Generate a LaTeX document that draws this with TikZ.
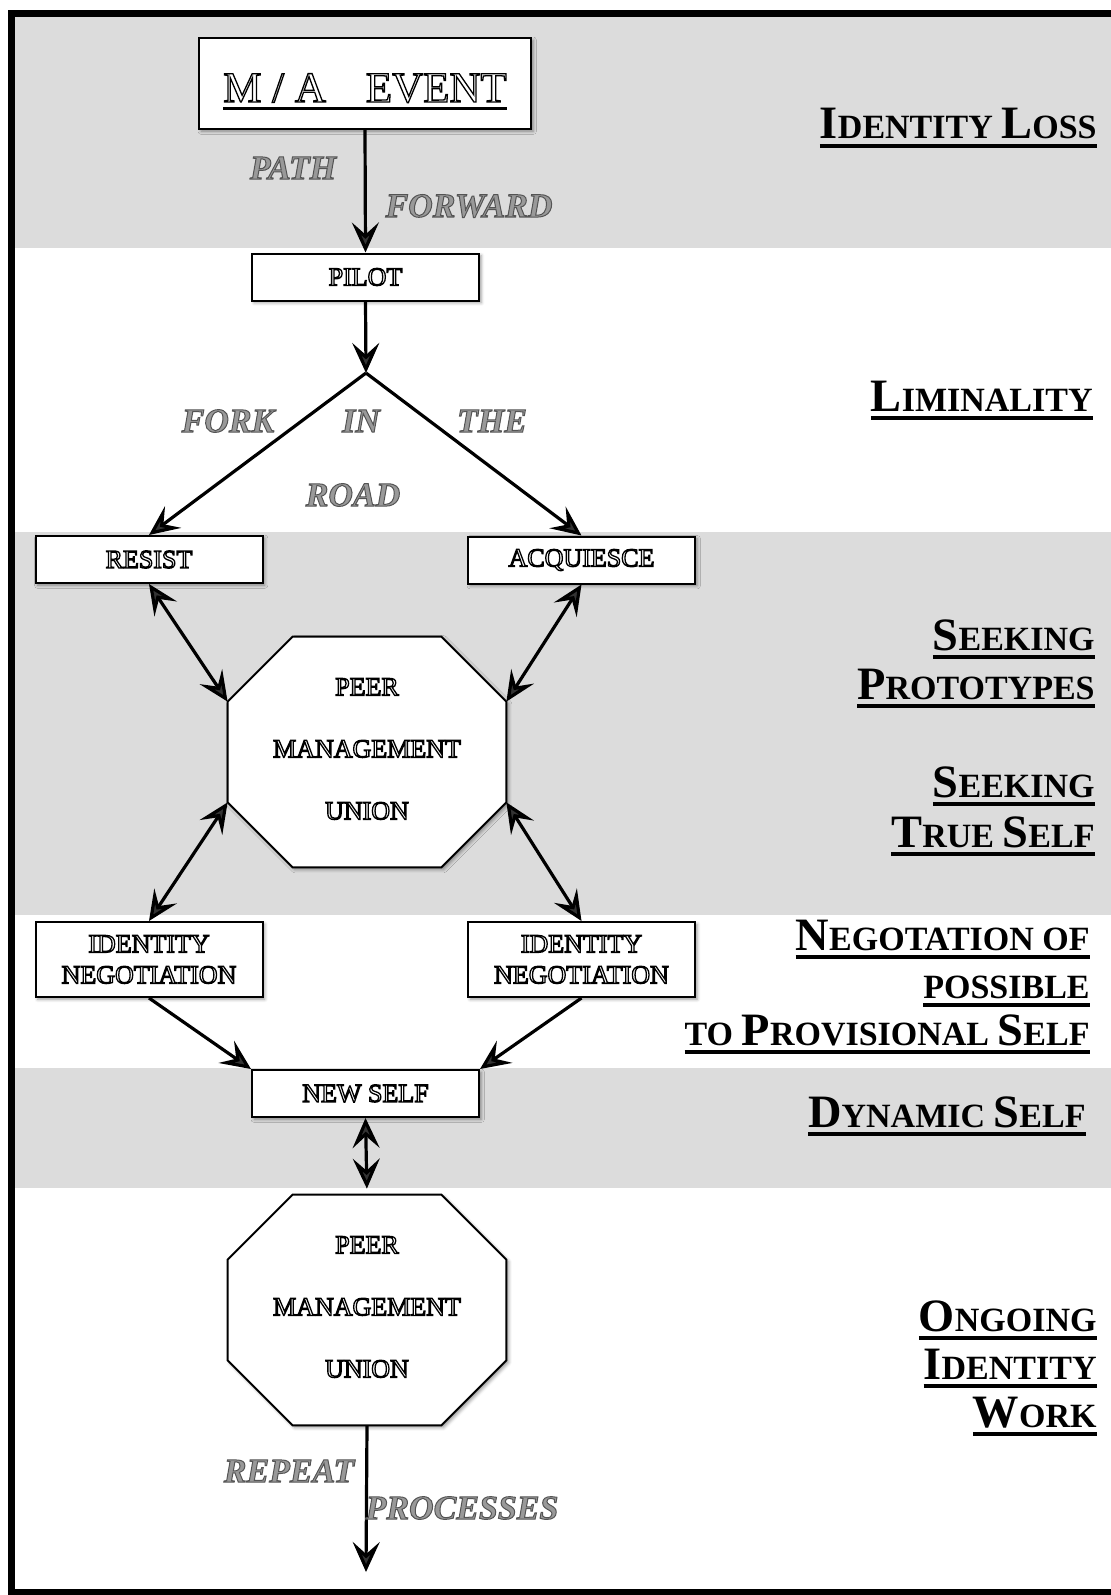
\documentclass[tikz,border=0pt]{standalone}
\usepackage{fontspec}
\setmainfont{Liberation Serif}
\usetikzlibrary{arrows.meta,shadows.blur,calc}

\definecolor{band}{gray}{0.863}
\definecolor{roadgray}{gray}{0.6}

% outlined (hollow) lettering for box labels, shaded outline for path words
\newcommand\hollowtxt[1]{\special{pdf:literal direct 1 Tr 0.65 w}#1\special{pdf:literal direct 0 Tr}}
\newcommand\graytxt[1]{\special{pdf:literal direct 2 Tr 0.5 w 0.33 G}#1\special{pdf:literal direct 0 Tr}}
% underline: #1 offset of the bar, #2 thickness, #3 text
\newcommand\ulbar[3]{\setbox0\hbox{#3}\rlap{\rule[#1]{\wd0}{#2}}\box0}
% fake small caps
\newcommand\capL{\fontsize{23.2}{28}\selectfont}
\newcommand\capS{\fontsize{17}{20}\selectfont}
\newcommand\phaseul[1]{\ulbar{-4.6pt}{2pt}{#1}}

\tikzset{
  tip/.tip={Stealth[length=15pt,width=13.5pt,inset=6pt]},
  flow/.style={line width=1.6pt,-tip},
  both/.style={line width=1.6pt,tip-tip},
  softshadow/.style={blur shadow={shadow xshift=1.1pt,shadow yshift=-1.1pt,shadow blur radius=1.6pt,shadow opacity=40}},
  box/.style={draw,line width=1pt,fill=white,softshadow,inner sep=0pt,align=center,
    minimum width=113.5pt,minimum height=23.5pt,font=\fontsize{13}{15.5}\selectfont},
  octframe/.style={inner sep=0pt,minimum width=139pt,minimum height=115pt},
  octline/.style={draw,line width=1pt,fill=white,softshadow},
  octtext/.style={inner sep=0pt,align=center,font=\fontsize{13}{31}\selectfont},
  roadlbl/.style={inner sep=0pt,text=roadgray,font=\bfseries\itshape\fontsize{17}{20}\selectfont},
  phase/.style={anchor=base east,inner sep=0pt,font=\bfseries},
}

\begin{document}
\begin{tikzpicture}[x=0.5pt,y=-0.5pt]
\useasboundingbox (0,0) rectangle (1111,1595);

% phase bands
\fill[band] (15,17) rectangle (1111,248);
\fill[band] (15,532) rectangle (1111,915);
\fill[band] (15,1068) rectangle (1111,1188);

% outer frame
\draw[line width=3.5pt] (11.5,13.5) rectangle (1140,1592);

% boxes
\node[box,minimum width=166pt,minimum height=45.5pt,font=\fontsize{21.5}{25}\selectfont] (ma) at (365,83.5)
  {\raisebox{0pt}[18.5pt][0pt]{\hollowtxt{\ulbar{-4.2pt}{1.7pt}{M / A\hspace{20pt}EVENT}}}};
\node[box] (pilot) at (365.5,277) {\hollowtxt{PILOT}};
\coordinate (fork) at (366,373);
\node[box] (resist) at (149,559.5) {\hollowtxt{RESIST}};
\node[box] (acq) at (581.5,560) {\hollowtxt{ACQUIESCE}};
\node[box,minimum height=37.5pt] (idnL) at (149,959.5) {\hollowtxt{IDENTITY\\NEGOTIATION}};
\node[box,minimum height=37.5pt] (idnR) at (581.5,959.5) {\hollowtxt{IDENTITY\\NEGOTIATION}};
\node[box] (ns) at (365.5,1093.5) {\hollowtxt{NEW SELF}};

% first octagon
\node[octframe] (oct1) at (367,752) {};
\draw[octline] ($(oct1.north west)+(65,0)$) -- ($(oct1.north east)+(-65,0)$)
  -- ($(oct1.north east)+(0,65)$) -- ($(oct1.south east)+(0,-65)$)
  -- ($(oct1.south east)+(-65,0)$) -- ($(oct1.south west)+(65,0)$)
  -- ($(oct1.south west)+(0,-65)$) -- ($(oct1.north west)+(0,65)$) -- cycle;
\node[octtext] (oct1txt) at ($(oct1.center)+(0,-3)$) {\hollowtxt{PEER\\MANAGEMENT\\UNION}};
\coordinate (o1ul) at ($(oct1.north west)+(0,65)$);
\coordinate (o1ur) at ($(oct1.north east)+(0,65)$);
\coordinate (o1ll) at ($(oct1.south west)+(0,-65)$);
\coordinate (o1lr) at ($(oct1.south east)+(0,-65)$);

% second octagon
\node[octframe] (oct2) at (367,1310) {};
\draw[octline] ($(oct2.north west)+(65,0)$) -- ($(oct2.north east)+(-65,0)$)
  -- ($(oct2.north east)+(0,65)$) -- ($(oct2.south east)+(0,-65)$)
  -- ($(oct2.south east)+(-65,0)$) -- ($(oct2.south west)+(65,0)$)
  -- ($(oct2.south west)+(0,-65)$) -- ($(oct2.north west)+(0,65)$) -- cycle;
\node[octtext] (oct2txt) at ($(oct2.center)+(0,-3)$) {\hollowtxt{PEER\\MANAGEMENT\\UNION}};
\coordinate (endpt) at (366,1572);

% connectors
\draw[flow] (ma.south) -- (pilot.north);
\draw[flow] (pilot.south) -- (fork);
\draw[flow] (fork) -- (resist.north);
\draw[flow] (fork) -- (acq.north);
\draw[both] (resist.south) -- (o1ul);
\draw[both] (acq.south) -- (o1ur);
\draw[both] (o1ll) -- (idnL.north);
\draw[both] (o1lr) -- (idnR.north);
\draw[flow] (idnL.south) -- (ns.north west);
\draw[flow] (idnR.south) -- (ns.north east);
\draw[both,shorten >=3pt] (ns.south) -- (oct2.north);
\draw[flow] (oct2.south) -- (endpt);

% path words
\node[roadlbl] (wpath) at (293,168) {\graytxt{PATH}};
\node[roadlbl] (wforward) at (469,206) {\graytxt{FORWARD}};
\node[roadlbl] (wfork) at (228,421) {\graytxt{FORK}};
\node[roadlbl] (win) at (361,421) {\graytxt{IN}};
\node[roadlbl] (wthe) at (492,421) {\graytxt{THE}};
\node[roadlbl] (wroad) at (353,495) {\graytxt{ROAD}};
\node[roadlbl] (wrepeat) at (289,1471) {\graytxt{REPEAT}};
\node[roadlbl] (wprocesses) at (462,1508) {\graytxt{PROCESSES}};

% phase names
\node[phase] (ph1) at (1097,139) {\phaseul{\capL I\capS DENTITY \capL L\capS OSS}};
\node[phase] (ph2) at (1093,411) {\phaseul{\capL L\capS IMINALITY}};
\node[phase] (ph3a) at (1095,650) {\phaseul{\capL S\capS EEKING}};
\node[phase] (ph3b) at (1095,699) {\phaseul{\capL P\capS ROTOTYPES}};
\node[phase] (ph4a) at (1095,797) {\phaseul{\capL S\capS EEKING}};
\node[phase] (ph4b) at (1095,847) {\phaseul{\capL T\capS RUE \capL S\capS ELF}};
\node[phase] (ph5a) at (1090,950) {\phaseul{\capL N\capS EGOTATION OF}};
\node[phase] (ph5b) at (1090,998) {\phaseul{\capS POSSIBLE}};
\node[phase] (ph5c) at (1090,1045) {\phaseul{\capS TO \capL P\capS ROVISIONAL \capL S\capS ELF}};
\node[phase] (ph6) at (1086,1127) {\phaseul{\capL D\capS YNAMIC \capL S\capS ELF}};
\node[phase] (ph7a) at (1097,1331) {\phaseul{\capL O\capS NGOING}};
\node[phase] (ph7b) at (1097,1379) {\phaseul{\capL I\capS DENTITY}};
\node[phase] (ph7c) at (1097,1427) {\phaseul{\capL W\capS ORK}};
\end{tikzpicture}
\end{document}
